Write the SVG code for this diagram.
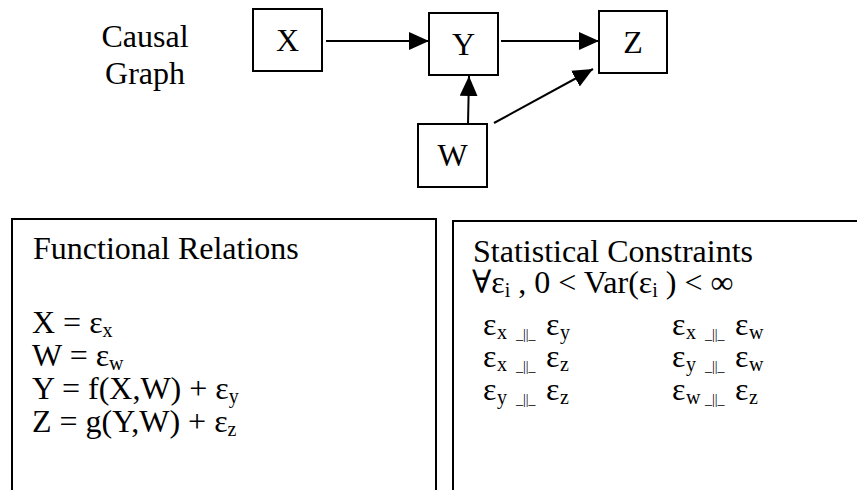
<svg xmlns="http://www.w3.org/2000/svg" width="857" height="490" viewBox="0 0 857 490">
<style>
text { font-family: "Liberation Serif", "Times New Roman", "DejaVu Serif", serif; font-size: 32px; fill: #000; }
.box { fill: #fff; stroke: #000; stroke-width: 2; }
.panel { fill: #fff; stroke: #000; stroke-width: 2; }
.edge { stroke: #000; stroke-width: 2; fill: none; marker-end: url(#arrow); }
.c { text-anchor: middle; }
.sub { font-size: 20px; }
.ind { font-size: 14px; }
</style>
<defs>
<marker id="arrow" markerUnits="userSpaceOnUse" markerWidth="20" markerHeight="18" refX="20" refY="9" orient="auto">
<path d="M0,0 L20,9 L0,18 Z" fill="#000"/>
</marker>
</defs>
<rect width="857" height="490" fill="#fff"/>

<g id="label-causal-graph">
<text class="c" x="145" y="47">Causal</text>
<text class="c" x="145" y="84">Graph</text>
</g>

<g id="connectors">
<line class="edge" x1="326" y1="41" x2="429" y2="41"/>
<line class="edge" x1="501" y1="41" x2="599" y2="41"/>
<line class="edge" x1="468" y1="124" x2="469" y2="76"/>
<line class="edge" x1="494" y1="123" x2="593" y2="69"/>
</g>

<g id="node-x">
<rect class="box" x="253" y="9" width="69" height="62"/>
<text class="c" x="287.5" y="51">X</text>
</g>
<g id="node-y">
<rect class="box" x="429" y="13" width="69" height="62"/>
<text class="c" x="463.5" y="55">Y</text>
</g>
<g id="node-z">
<rect class="box" x="599" y="11" width="68" height="62"/>
<text class="c" x="633" y="53">Z</text>
</g>
<g id="node-w">
<rect class="box" x="418" y="124" width="69" height="63"/>
<text class="c" x="452.5" y="166">W</text>
</g>

<g id="panel-functional">
<rect class="panel" x="12" y="219" width="424" height="300"/>
<text x="33" y="259">Functional Relations</text>
<text x="32" y="333">X = ε<tspan class="sub" dy="4">x</tspan></text>
<text x="32" y="366">W = ε<tspan class="sub" dy="4">w</tspan></text>
<text x="32" y="399">Y = f(X,W) + ε<tspan class="sub" dy="4">y</tspan></text>
<text x="32" y="432">Z = g(Y,W) + ε<tspan class="sub" dy="4">z</tspan></text>
</g>

<g id="panel-statistical">
<rect class="panel" x="453" y="221" width="420" height="300"/>
<text x="473" y="262">Statistical Constraints</text>
<text x="472" y="293">∀ε<tspan class="sub" dy="4">i</tspan><tspan dy="-4"> , 0 &lt; Var(ε</tspan><tspan class="sub" dy="4">i</tspan><tspan dy="-4"> ) &lt; ∞</tspan></text>

<text y="335"><tspan x="483">ε</tspan><tspan class="sub" x="497" dy="4">x</tspan><tspan class="ind" x="516">_||_</tspan><tspan x="546" dy="-4">ε</tspan><tspan class="sub" x="560" dy="4">y</tspan></text>
<text y="367"><tspan x="483">ε</tspan><tspan class="sub" x="497" dy="4">x</tspan><tspan class="ind" x="516">_||_</tspan><tspan x="546" dy="-4">ε</tspan><tspan class="sub" x="560" dy="4">z</tspan></text>
<text y="400"><tspan x="483">ε</tspan><tspan class="sub" x="497" dy="4">y</tspan><tspan class="ind" x="516">_||_</tspan><tspan x="546" dy="-4">ε</tspan><tspan class="sub" x="560" dy="4">z</tspan></text>

<text y="335"><tspan x="672">ε</tspan><tspan class="sub" x="686" dy="4">x</tspan><tspan class="ind" x="705">_||_</tspan><tspan x="735" dy="-4">ε</tspan><tspan class="sub" x="749" dy="4">w</tspan></text>
<text y="367"><tspan x="672">ε</tspan><tspan class="sub" x="686" dy="4">y</tspan><tspan class="ind" x="705">_||_</tspan><tspan x="735" dy="-4">ε</tspan><tspan class="sub" x="749" dy="4">w</tspan></text>
<text y="400"><tspan x="672">ε</tspan><tspan class="sub" x="686" dy="4">w</tspan><tspan class="ind" x="705">_||_</tspan><tspan x="735" dy="-4">ε</tspan><tspan class="sub" x="749" dy="4">z</tspan></text>
</g>
</svg>
